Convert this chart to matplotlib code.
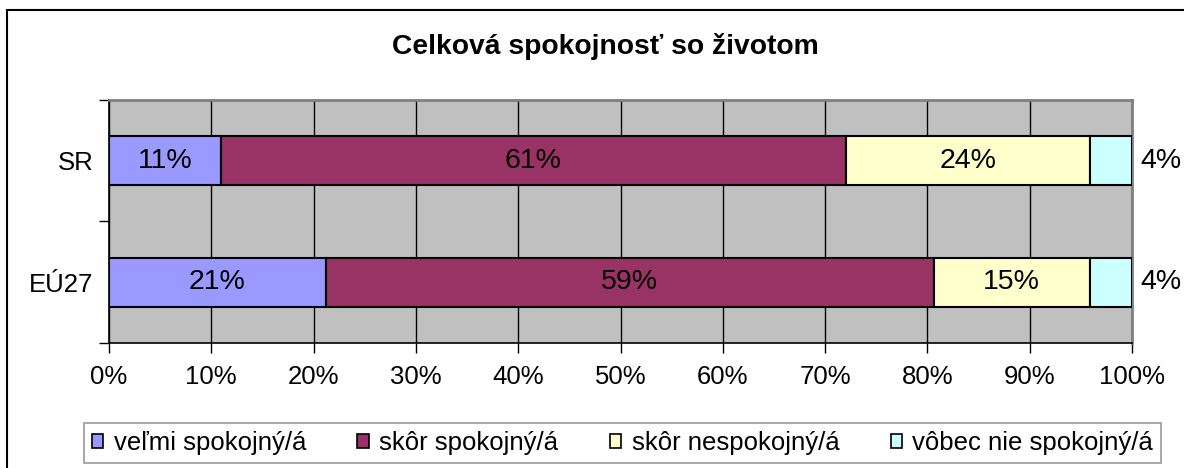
import matplotlib.pyplot as plt
import matplotlib.patches as mpatches
import numpy as np

plt.rcParams['font.family'] = ['Liberation Sans', 'DejaVu Sans']

categories = ['SR', 'EÚ27']
series = ['veľmi spokojný/á', 'skôr spokojný/á', 'skôr nespokojný/á', 'vôbec nie spokojný/á']
values = {
    'SR':   [10.9, 61.1, 23.9, 4.1],
    'EÚ27': [21.2, 59.4, 15.3, 4.1],
}
colors = ['#9999FF', '#993366', '#FFFFCC', '#CCFFFF']

fig = plt.figure(figsize=(11.84, 4.68), dpi=100)
ax = fig.add_axes([109 / 1184, 1 - 343 / 468, (1132 - 109) / 1184, 243 / 468])
ax.set_facecolor('#C0C0C0')

y = np.arange(len(categories))
for i, cat in enumerate(categories):
    left = 0
    vals = values[cat]
    for j, v in enumerate(vals):
        ax.barh(y[i], v, left=left, height=0.4, color=colors[j],
                edgecolor='black', linewidth=1.5, zorder=3,
                label=series[j] if i == 0 else None)
        txt = '%d%%' % round(v)
        if j == len(vals) - 1:
            ax.text(left + v + 0.8, y[i], txt, ha='left', va='center',
                    fontsize=20.5, clip_on=False)
        else:
            ax.text(left + v / 2, y[i], txt, ha='center', va='center',
                    fontsize=20.5, zorder=4)
        left += v

ax.set_xlim(0, 100)
ax.set_ylim(1.5, -0.5)
ax.set_xticks(np.arange(0, 101, 10))
ax.set_xticklabels(['%d%%' % t for t in range(0, 101, 10)], fontsize=18.5)
ax.xaxis.grid(True, color='black', linewidth=1, zorder=0)
ax.set_axisbelow(True)
ax.tick_params(axis='x', direction='out', length=7, width=1, pad=9)

ax.set_yticks([-0.5, 0.5, 1.5])
ax.set_yticklabels([])
ax.set_yticks(y, minor=True)
ax.set_yticklabels(categories, minor=True, fontsize=18.5)
ax.tick_params(axis='y', which='major', direction='out', length=7, width=1)
ax.tick_params(axis='y', which='minor', length=0, pad=11)

for s in ['left', 'bottom']:
    ax.spines[s].set_color('black')
    ax.spines[s].set_linewidth(1.2)
for s in ['top', 'right']:
    ax.spines[s].set_color('#808080')
    ax.spines[s].set_linewidth(2)

fig.text(0.511, 1 - 47 / 468, 'Celková spokojnosť so životom', ha='center',
         va='center', fontsize=20.3, fontweight='bold')

handles = [mpatches.Patch(facecolor=c, edgecolor='black', linewidth=1.2) for c in colors]
leg = fig.legend(handles, series, ncol=4, loc='center',
                 bbox_to_anchor=((84 + 1161) / 2 / 1184, 1 - 443 / 468),
                 fontsize=18.5, frameon=True, fancybox=False,
                 handlelength=0.45, handleheight=0.45, handletextpad=0.4,
                 columnspacing=2.0, borderpad=0.3, borderaxespad=0)
leg.get_frame().set_edgecolor('#808080')
leg.get_frame().set_linewidth(1.2)

fig.patches.append(mpatches.Rectangle((7 / 1184, -0.1), 2, 1 - 10 / 468 + 0.1,
                                      transform=fig.transFigure, fill=False,
                                      edgecolor='black', linewidth=1.5))

fig.savefig('out.png', dpi=100)
